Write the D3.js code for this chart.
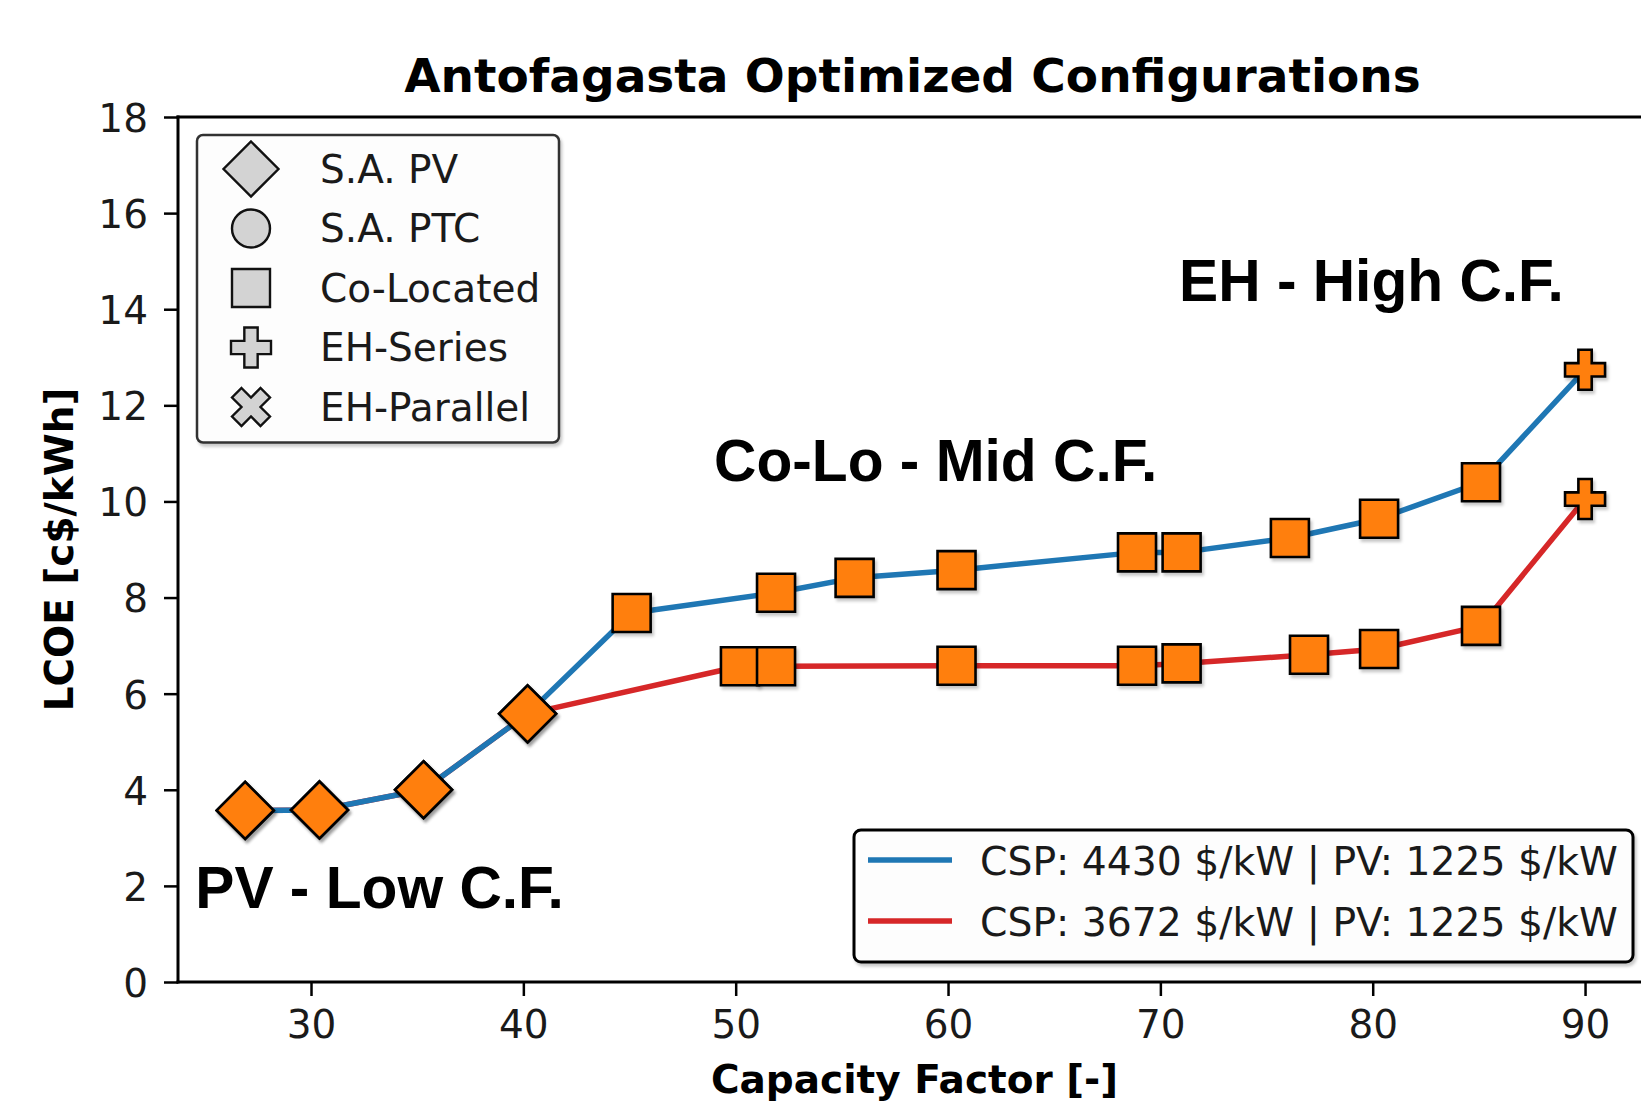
<!DOCTYPE html>
<html><head><meta charset="utf-8">
<script src="https://cdn.jsdelivr.net/npm/d3@7"></script>
<style>body{margin:0;background:#fff}</style>
</head><body>
<svg id="c" width="1641" height="1103"></svg>
<script>
// ---- data ----
const xTicks = [30, 40, 50, 60, 70, 80, 90];
const yTicks = [0, 2, 4, 6, 8, 10, 12, 14, 16, 18];

const blueX = [26.9, 30.4, 35.3, 40.2, 45.1, 51.9, 55.6, 60.4, 68.9, 71.0, 76.1, 80.3, 85.1, 90.0];
const blueY = [3.57, 3.58, 4.0, 5.58, 7.68, 8.1, 8.41, 8.57, 8.94, 8.94, 9.24, 9.64, 10.4, 12.74];
const blueM = ["D","D","D","D","s","s","s","s","s","s","s","s","s","P"];

const redX = [26.9, 30.4, 35.3, 40.2, 50.2, 51.9, 60.4, 68.9, 71.0, 77.0, 80.3, 85.1, 90.0];
const redY = [3.57, 3.58, 4.0, 5.58, 6.57, 6.57, 6.58, 6.58, 6.63, 6.81, 6.93, 7.41, 10.05];
const redM = ["D","D","D","D","s","s","s","s","s","s","s","s","P"];

const seriesNames = ["CSP: 4430 $/kW | PV: 1225 $/kW", "CSP: 3672 $/kW | PV: 1225 $/kW"];
const seriesColors = ["#1f77b4", "#d62728"];
const markerNames = ["S.A. PV", "S.A. PTC", "Co-Located", "EH-Series", "EH-Parallel"];
const markerKeys = ["D", "o", "s", "P", "X"];
const annoText = ["PV - Low C.F.", "Co-Lo - Mid C.F.", "EH - High C.F."];
const annoX = [24.55, 48.98, 70.88];
const annoY = [1.54, 10.42, 14.18];

const title = "Antofagasta Optimized Configurations";
const xLabel = "Capacity Factor [-]";
const yLabel = "LCOE [c$/kWh]";

// ---- symbols (size = full width in px) ----
function poly(ctx, pts, k){ ctx.moveTo(pts[0][0]*k, pts[0][1]*k); for(let i=1;i<pts.length;i++) ctx.lineTo(pts[i][0]*k, pts[i][1]*k); ctx.closePath(); }
const sym = {
  D: {draw(ctx, w){ const h=w/2; poly(ctx, [[0,-1],[1,0],[0,1],[-1,0]], h); }},
  s: {draw(ctx, w){ const h=w/2; poly(ctx, [[-1,-1],[1,-1],[1,1],[-1,1]], h); }},
  o: {draw(ctx, w){ const h=w/2; ctx.moveTo(h,0); ctx.arc(0,0,h,0,2*Math.PI); ctx.closePath(); }},
  P: {draw(ctx, w){ poly(ctx, [[-1,-3],[1,-3],[1,-1],[3,-1],[3,1],[1,1],[1,3],[-1,3],[-1,1],[-3,1],[-3,-1],[-1,-1]], w/6); }},
  X: {draw(ctx, w){ poly(ctx, [[-1,-2],[0,-1],[1,-2],[2,-1],[1,0],[2,1],[1,2],[0,1],[-1,2],[-2,1],[-1,0],[-2,-1]], w/4); }}
};
const plotSize = {D: 57, s: 38, P: 40, o: 38, X: 38};
const legSize = {D: 55, o: 38, s: 38, P: 40, X: 38};

// ---- layout ----
const L = 178, R = 1653, T = 117, B = 982;
const x = d3.scaleLinear().domain([23.736, 93.2]).range([L, R]);
const y = d3.scaleLinear().domain([0, 18]).range([B, T]);

const svg = d3.select("#c");
const defs = svg.append("defs");
const f = defs.append("filter").attr("id","sh").attr("x","-30%").attr("y","-30%").attr("width","160%").attr("height","160%");
f.append("feDropShadow").attr("dx",2).attr("dy",3).attr("stdDeviation",1.5).attr("flood-color","#000").attr("flood-opacity",0.22);

const FONT = "'DejaVu Sans', sans-serif";
const AFONT = "'Liberation Sans', Arial, sans-serif";

// title
svg.append("text").attr("x", (L+R)/2 - 3).attr("y", 92).attr("text-anchor","middle")
  .style("font-family", FONT).style("font-weight","bold").style("font-size","47px").text(title);

// lines
const lineGen = d3.line().x(d => x(d[0])).y(d => y(d[1]));
const series = [
  {xs: blueX, ys: blueY, ms: blueM, color: seriesColors[0]},
  {xs: redX, ys: redY, ms: redM, color: seriesColors[1]}
];
const plotG = svg.append("g");
[series[1], series[0]].forEach(s => {
  plotG.append("path").datum(s.xs.map((v,i)=>[v, s.ys[i]]))
    .attr("d", lineGen).attr("fill","none").attr("stroke", s.color)
    .attr("stroke-width", 5.5).attr("stroke-linejoin","round").attr("stroke-linecap","round");
});
// markers
series.forEach(s => {
  plotG.selectAll(null).data(s.xs.map((v,i)=>({x:v, y:s.ys[i], m:s.ms[i]}))).enter()
    .append("path")
    .attr("transform", d => `translate(${x(d.x)},${y(d.y)})`)
    .attr("d", d => d3.symbol().type(sym[d.m]).size(plotSize[d.m])())
    .attr("fill", "#ff7f0e").attr("stroke", "#000").attr("stroke-width", 2.6)
    .attr("stroke-linejoin","miter").attr("filter","url(#sh)");
});

// axes
const xAxis = d3.axisBottom(x).tickValues(xTicks).tickSize(14).tickSizeOuter(0).tickPadding(14);
const yAxis = d3.axisLeft(y).tickValues(yTicks).tickSize(14).tickSizeOuter(0).tickPadding(16);
const gx = svg.append("g").attr("transform", `translate(0,${B})`).call(xAxis);
const gy = svg.append("g").attr("transform", `translate(${L},0)`).call(yAxis);
[gx, gy].forEach(g => {
  g.select(".domain").remove();
  g.selectAll(".tick line").attr("stroke","#000").attr("stroke-width",2.5);
  g.selectAll(".tick text").style("font-family", FONT).style("font-size","39px").attr("fill","#1a1a1a");
});
gy.selectAll(".tick text").attr("dy","0.37em");
// spines
const sp = svg.append("g").attr("stroke","#000").attr("stroke-width",3).attr("stroke-linecap","square");
sp.append("line").attr("x1",L).attr("x2",R).attr("y1",B).attr("y2",B);
sp.append("line").attr("x1",L).attr("x2",L).attr("y1",T).attr("y2",B);
sp.append("line").attr("x1",L).attr("x2",R).attr("y1",T).attr("y2",T);
sp.append("line").attr("x1",R).attr("x2",R).attr("y1",T).attr("y2",B);

// axis labels
svg.append("text").attr("x", (L+R)/2 - 1).attr("y", 1093).attr("text-anchor","middle")
  .style("font-family", FONT).style("font-weight","bold").style("font-size","39px").text(xLabel);
svg.append("text").attr("transform", `translate(73,${(T+B)/2}) rotate(-90)`).attr("text-anchor","middle")
  .style("font-family", FONT).style("font-weight","bold").style("font-size","39px").text(yLabel);

// annotations
annoText.forEach((t,i) => {
  svg.append("text").attr("x", x(annoX[i])).attr("y", y(annoY[i]))
    .style("font-family", AFONT).style("font-weight","bold").style("font-size","58.7px").text(t);
});

// marker legend
const lg1 = svg.append("g");
lg1.append("rect").attr("x",197).attr("y",135).attr("width",362).attr("height",307.5).attr("rx",6)
  .attr("fill","#fff").attr("fill-opacity",0.9).attr("stroke","#333").attr("stroke-width",2.5).attr("filter","url(#sh)");
markerKeys.forEach((k,i) => {
  const cy = 169 + i*59.5;
  lg1.append("path").attr("transform",`translate(251,${cy})`)
    .attr("d", d3.symbol().type(sym[k]).size(legSize[k])())
    .attr("fill","#d3d3d3").attr("stroke","#111").attr("stroke-width",2.4);
  lg1.append("text").attr("x",320).attr("y",cy+13.5)
    .style("font-family",FONT).style("font-size","39px").attr("fill","#1a1a1a").text(markerNames[i]);
});

// line legend
const lg2 = svg.append("g");
lg2.append("rect").attr("x",854).attr("y",830).attr("width",779).attr("height",132).attr("rx",7)
  .attr("fill","#fff").attr("fill-opacity",0.9).attr("stroke","#000").attr("stroke-width",3).attr("filter","url(#sh)");
seriesNames.forEach((n,i) => {
  const cy = 860 + i*61;
  lg2.append("line").attr("x1",868).attr("x2",952).attr("y1",cy).attr("y2",cy)
    .attr("stroke",seriesColors[i]).attr("stroke-width",5.5);
  lg2.append("text").attr("x",980).attr("y",cy+14.5)
    .style("font-family",FONT).style("font-size","39.3px").attr("fill","#1a1a1a").text(n);
});
</script>
</body></html>
